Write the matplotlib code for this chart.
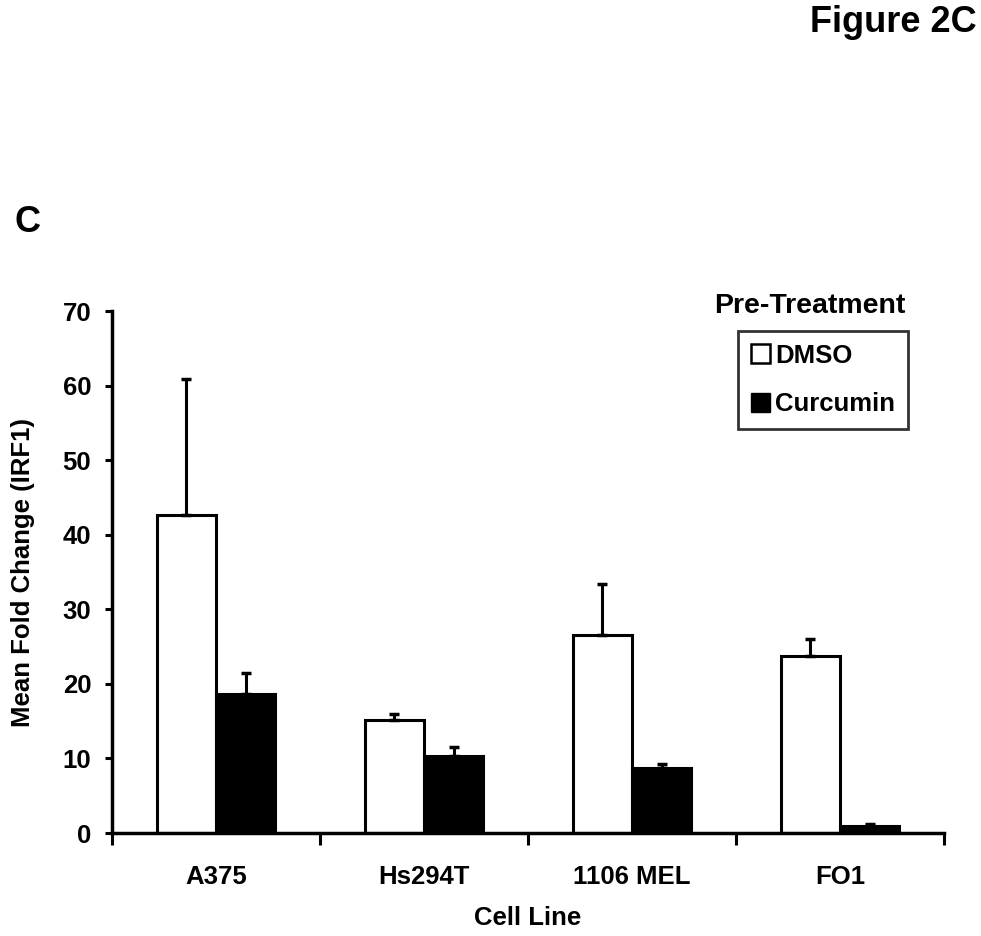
import numpy as np
import matplotlib.pyplot as plt
from matplotlib.patches import Patch

# données
cell_lines = ["A375", "Hs294T", "1106 MEL", "FO1"]
dmso = [42.6, 15.1, 26.5, 23.8]
dmso_err = [18.3, 0.9, 6.9, 2.2]
curcumin = [18.7, 10.3, 8.7, 1.0]
curcumin_err = [2.7, 1.2, 0.6, 0.2]

plt.rcParams['font.family'] = ['Liberation Sans', 'DejaVu Sans']
plt.rcParams['font.weight'] = 'bold'

fig = plt.figure(figsize=(9.81, 9.36), dpi=100)
ax = fig.add_axes([0.1142, 0.110, 0.8481, 0.5577])

x = np.arange(len(cell_lines)) + 0.5
w = 0.285

ax.bar(x - w/2, dmso, w, color="white", edgecolor="black", linewidth=2.2,
       yerr=[np.zeros(4), dmso_err], capsize=3.6,
       error_kw=dict(elinewidth=2.2, capthick=2.5, ecolor="black"), zorder=2)
ax.bar(x + w/2, curcumin, w, color="black", edgecolor="black", linewidth=2.2,
       yerr=[np.zeros(4), curcumin_err], capsize=3.6,
       error_kw=dict(elinewidth=2.2, capthick=2.5, ecolor="black"), zorder=2)

ax.set_xlim(0, 4)
ax.set_ylim(0, 70)
ax.set_yticks(range(0, 71, 10))
ax.set_xticks(np.arange(0, 5))
ax.set_xticklabels([])
ax.set_xticks(x, minor=True)
ax.set_xticklabels(cell_lines, minor=True)
ax.tick_params(axis='x', which='minor', length=0, pad=23, labelsize=18.5)
ax.tick_params(axis='x', which='major', length=8.5, width=2.2, direction='out')
ax.tick_params(axis='y', length=5, width=2.2, direction='out', labelsize=18.5, pad=10)

for s in ["top", "right"]:
    ax.spines[s].set_visible(False)
for s in ["left", "bottom"]:
    ax.spines[s].set_linewidth(2.5)

ax.set_ylabel("Mean Fold Change (IRF1)", fontsize=18.5, fontweight='bold')
ax.yaxis.set_label_coords(-0.092, 0.5)
ax.set_xlabel("Cell Line", fontsize=18.5, fontweight='bold')
ax.xaxis.set_label_coords(0.5, -0.140)

leg = ax.legend(handles=[Patch(facecolor="white", edgecolor="black", linewidth=1.8, label="DMSO"),
                         Patch(facecolor="black", edgecolor="black", label="Curcumin")],
                loc="upper left", bbox_to_anchor=(0.752, 0.962), frameon=True, fancybox=False,
                edgecolor="black", fontsize=18.5, handlelength=0.75, handleheight=0.75,
                handletextpad=0.2, labelspacing=0.95, borderpad=0.5, borderaxespad=0)
leg.get_frame().set_linewidth(2)
fig.text(810/981, 1 - 306/936, "Pre-Treatment", ha="center", va="center",
         fontsize=20.5, fontweight="bold")

fig.text(977/981, 1 - 22/936, "Figure 2C", ha="right", va="center",
         fontsize=26, fontweight="bold")
fig.text(28/981, 1 - 222/936, "C", ha="center", va="center",
         fontsize=26, fontweight="bold")

plt.savefig("out.png", dpi=100)
